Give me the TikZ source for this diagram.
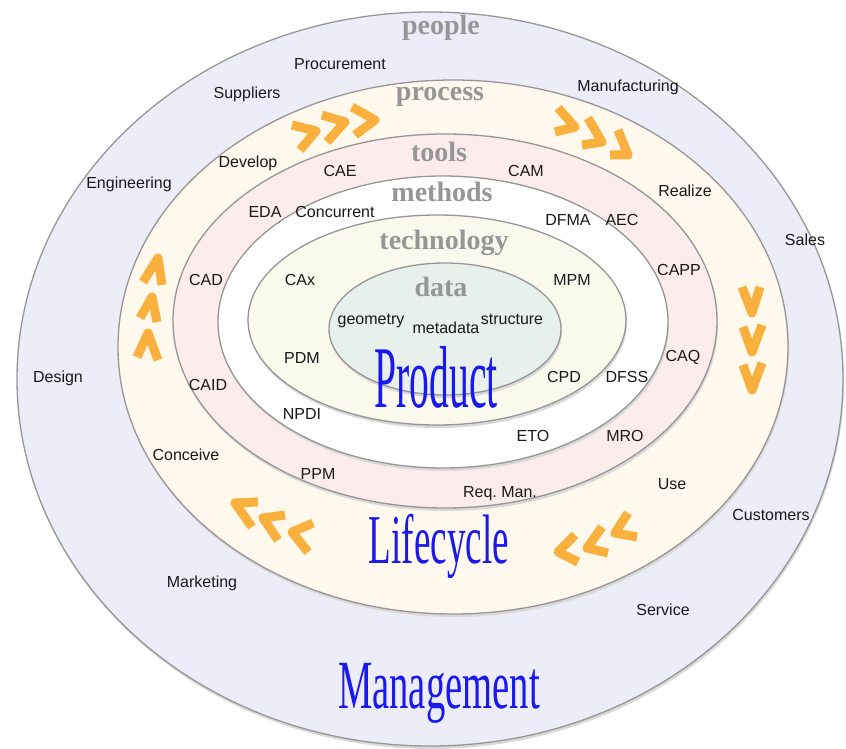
\documentclass[tikz,border=0pt]{standalone}
\usepackage{fontspec}
\usepackage{graphicx}
\newfontfamily\labelfont{Liberation Sans}
\newfontfamily\titlefont{Liberation Serif}
\definecolor{peoplefill}{RGB}{237,237,250}
\definecolor{processfill}{RGB}{255,248,236}
\definecolor{toolsfill}{RGB}{252,236,236}
\definecolor{methodsfill}{RGB}{254,254,254}
\definecolor{techfill}{RGB}{250,250,236}
\definecolor{datafill}{RGB}{232,240,236}
\definecolor{ringgray}{RGB}{150,150,150}
\definecolor{layergray}{RGB}{150,150,150}
\definecolor{titleblue}{RGB}{25,25,235}
\definecolor{arrowgold}{RGB}{249,176,60}

\begin{document}
\begin{tikzpicture}[x=1pt, y=-1pt,
        ring/.style={draw=ringgray, line width=1.3pt},
        ringshadow/.style={fill=black!15},
        word/.style={font=\labelfont\fontsize{16}{16}\selectfont, text=black!90, inner sep=0pt},
        layer/.style={font=\titlefont\bfseries\fontsize{28}{28}\selectfont, text=layergray, inner sep=0pt},
        big/.style={font=\titlefont, text=titleblue, inner sep=0pt, anchor=base},
        chev/.style={draw=arrowgold, line width=9pt, line join=round},
        ]

        \useasboundingbox (0,0) rectangle (846,749);

        % Rings
        \fill[ringshadow] (431,382) ellipse [x radius=413pt, y radius=367pt];
        \draw[ring, fill=peoplefill] (430,379) ellipse [x radius=413pt, y radius=367pt];
        \fill[ringshadow] (454,350) ellipse [x radius=335pt, y radius=267pt];
        \draw[ring, fill=processfill] (453,347) ellipse [x radius=335pt, y radius=267pt];
        \fill[ringshadow] (446,324) ellipse [x radius=272pt, y radius=187pt];
        \draw[ring, fill=toolsfill] (445,321) ellipse [x radius=272pt, y radius=187pt];
        \fill[ringshadow] (444,325) ellipse [x radius=225pt, y radius=146pt];
        \draw[ring, fill=methodsfill] (443,322) ellipse [x radius=225pt, y radius=146pt];
        \fill[ringshadow] (438,323) ellipse [x radius=189pt, y radius=105pt];
        \draw[ring, fill=techfill] (437,320) ellipse [x radius=189pt, y radius=105pt];
        \fill[ringshadow] (446,332) ellipse [x radius=116pt, y radius=66pt];
        \draw[ring, fill=datafill] (445,329) ellipse [x radius=116pt, y radius=66pt];

        % Layer names
        \node[layer] (people) at (441,28) {people};
        \node[layer] (process) at (440,97) {process};
        \node[layer] (tools) at (439,152) {tools};
        \node[layer] (methods) at (442,192) {methods};
        \node[layer] (technology) at (444,243) {technology};
        \node[layer] (data) at (441,287) {data};

        % Chevrons
        \draw[chev] (292,125) -- (316,131) -- (300,150);
        \draw[chev] (322,115) -- (345,122) -- (327,142);
        \draw[chev] (352,107) -- (375,120) -- (355,135);
        \draw[chev] (558,108) -- (575,127) -- (555,132);
        \draw[chev] (588,118) -- (602,142) -- (582,145);
        \draw[chev] (618,130) -- (628,155) -- (610,155);
        \draw[chev] (742,287) -- (752,313) -- (760,287);
        \draw[chev] (743,327) -- (752,352) -- (762,325);
        \draw[chev] (743,365) -- (752,390) -- (762,363);
        \draw[chev] (628,513) -- (615,533) -- (637,537);
        \draw[chev] (602,527) -- (587,548) -- (608,553);
        \draw[chev] (575,535) -- (558,552) -- (578,562);
        \draw[chev] (258,502) -- (235,503) -- (252,527);
        \draw[chev] (285,515) -- (263,518) -- (278,540);
        \draw[chev] (313,523) -- (292,532) -- (308,552);
        \draw[chev] (143,282) -- (158,258) -- (162,285);
        \draw[chev] (140,318) -- (152,297) -- (157,322);
        \draw[chev] (137,357) -- (148,333) -- (158,360);

        % People
        \node[word] (procurement) at (340,64) {Procurement};
        \node[word] (suppliers) at (247,94) {Suppliers};
        \node[word] (manufacturing) at (628,87) {Manufacturing};
        \node[word] (engineering) at (129,184) {Engineering};
        \node[word] (sales) at (805,240) {Sales};
        \node[word] (design) at (58,378) {Design};
        \node[word] (customers) at (771,515) {Customers};
        \node[word] (marketing) at (202,583) {Marketing};
        \node[word] (service) at (663,610) {Service};

        % Process
        \node[word] (develop) at (248,163) {Develop};
        \node[word] (realize) at (685,191) {Realize};
        \node[word] (conceive) at (186,455) {Conceive};
        \node[word] (use) at (672,484) {Use};

        % Tools
        \node[word] (cae) at (340,171) {CAE};
        \node[word] (cam) at (526,171) {CAM};
        \node[word] (eda) at (265,212) {EDA};
        \node[word] (aec) at (622,220) {AEC};
        \node[word] (cad) at (206,280) {CAD};
        \node[word] (capp) at (679,270) {CAPP};
        \node[word] (caq) at (683,357) {CAQ};
        \node[word] (caid) at (208,385) {CAID};
        \node[word] (mro) at (625,436) {MRO};
        \node[word] (ppm) at (318,474) {PPM};
        \node[word] (reqman) at (500,494) {Req.\ Man.};

        % Methods
        \node[word] (concurrent) at (335,212) {Concurrent};
        \node[word] (dfma) at (568,220) {DFMA};
        \node[word] (dfss) at (627,377) {DFSS};
        \node[word] (npdi) at (302,414) {NPDI};
        \node[word] (eto) at (533,436) {ETO};

        % Technology
        \node[word] (cax) at (300,280) {CAx};
        \node[word] (mpm) at (572,280) {MPM};
        \node[word] (pdm) at (302,358) {PDM};
        \node[word] (cpd) at (564,377) {CPD};

        % Data
        \node[word] (geometry) at (371,321) {geometry};
        \node[word] (metadata) at (446,328) {metadata};
        \node[word] (structure) at (512,319) {structure};

        % Titles
        \node[big] (product) at (436,407) {\scalebox{0.45}[1]{\fontsize{88}{88}\selectfont Product}};
        \node[big] (lifecycle) at (439,563) {\scalebox{0.53}[1]{\fontsize{70}{70}\selectfont Lifecycle}};
        \node[big] (management) at (439,708) {\scalebox{0.56}[1]{\fontsize{69}{69}\selectfont Management}};

    \end{tikzpicture}
\end{document}
